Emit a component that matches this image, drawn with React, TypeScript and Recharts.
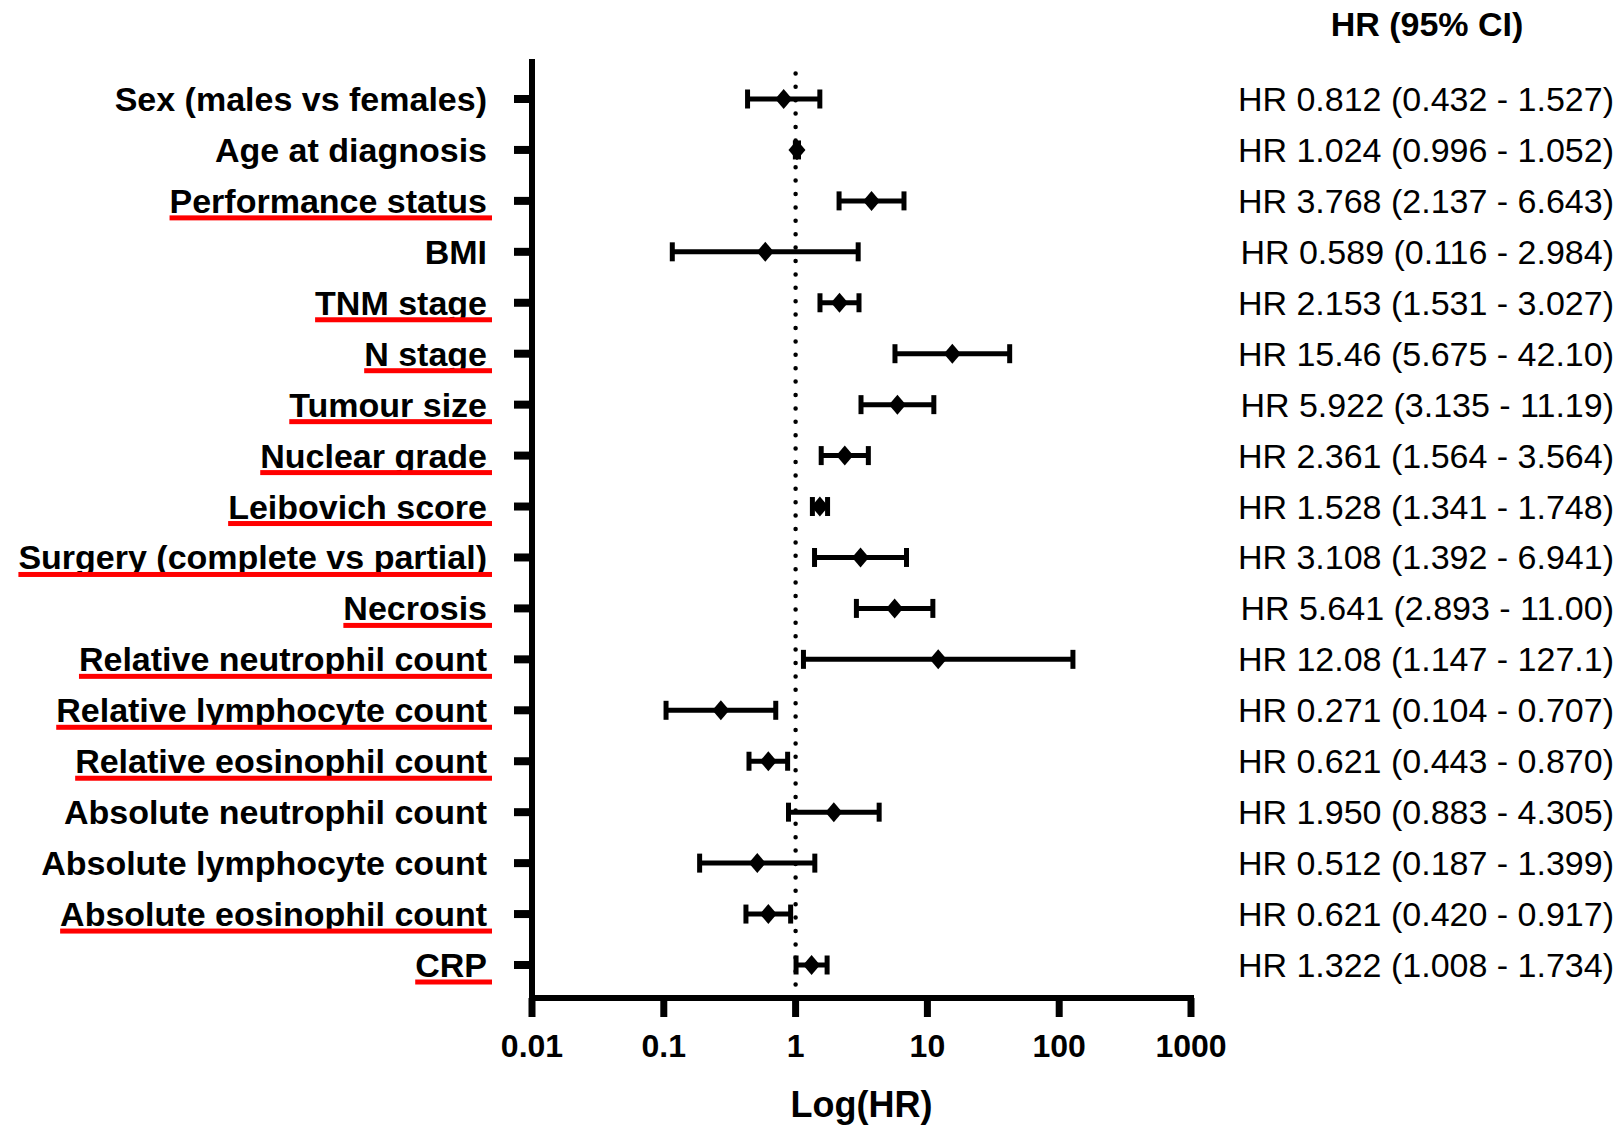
import { ComposedChart, Scatter, ErrorBar, XAxis, YAxis, ReferenceLine, Label } from 'recharts';

// variables, top to bottom
const categories = [
  'Sex (males vs females)',
  'Age at diagnosis',
  'Performance status',
  'BMI',
  'TNM stage',
  'N stage',
  'Tumour size',
  'Nuclear grade',
  'Leibovich score',
  'Surgery (complete vs partial)',
  'Necrosis',
  'Relative neutrophil count',
  'Relative lymphocyte count',
  'Relative eosinophil count',
  'Absolute neutrophil count',
  'Absolute lymphocyte count',
  'Absolute eosinophil count',
  'CRP',
];
const hr = [0.812, 1.024, 3.768, 0.589, 2.153, 15.46, 5.922, 2.361, 1.528, 3.108, 5.641, 12.08, 0.271, 0.621, 1.95, 0.512, 0.621, 1.322];
const lower = [0.432, 0.996, 2.137, 0.116, 1.531, 5.675, 3.135, 1.564, 1.341, 1.392, 2.893, 1.147, 0.104, 0.443, 0.883, 0.187, 0.42, 1.008];
const upper = [1.527, 1.052, 6.643, 2.984, 3.027, 42.1, 11.19, 3.564, 1.748, 6.941, 11.0, 127.1, 0.707, 0.87, 4.305, 1.399, 0.917, 1.734];
const hrLabels = [
  'HR 0.812 (0.432 - 1.527)',
  'HR 1.024 (0.996 - 1.052)',
  'HR 3.768 (2.137 - 6.643)',
  'HR 0.589 (0.116 - 2.984)',
  'HR 2.153 (1.531 - 3.027)',
  'HR 15.46 (5.675 - 42.10)',
  'HR 5.922 (3.135 - 11.19)',
  'HR 2.361 (1.564 - 3.564)',
  'HR 1.528 (1.341 - 1.748)',
  'HR 3.108 (1.392 - 6.941)',
  'HR 5.641 (2.893 - 11.00)',
  'HR 12.08 (1.147 - 127.1)',
  'HR 0.271 (0.104 - 0.707)',
  'HR 0.621 (0.443 - 0.870)',
  'HR 1.950 (0.883 - 4.305)',
  'HR 0.512 (0.187 - 1.399)',
  'HR 0.621 (0.420 - 0.917)',
  'HR 1.322 (1.008 - 1.734)',
];
// significant ones get the red underline
const underlined = [false, false, true, false, true, true, true, true, true, true, true, true, true, true, false, false, true, true];
const xTicks = [0.01, 0.1, 1, 10, 100, 1000];

const data = categories.map((name, i) => ({
  name,
  hr: hr[i],
  err: [hr[i] - lower[i], upper[i] - hr[i]],
}));

const FONT = '"Liberation Sans", Arial, Helvetica, sans-serif';

let ctx: CanvasRenderingContext2D | null = null;
function textWidth(s: string, font: string) {
  if (!ctx) ctx = document.createElement('canvas').getContext('2d');
  if (!ctx) return s.length * 18;
  ctx.font = font;
  return ctx.measureText(s).width;
}

function LeftTick(props: any) {
  const { x, y, payload } = props;
  const idx = categories.indexOf(payload.value);
  const w = textWidth(payload.value, `bold 34px ${FONT}`);
  return (
    <g>
      <text x={x} y={y + 12} textAnchor="end" fontFamily={FONT} fontWeight="bold" fontSize={34} fill="#000">
        {payload.value}
      </text>
      {underlined[idx] && <rect x={x - w} y={y + 14.5} width={w + 5} height={5} fill="#ff0000" />}
    </g>
  );
}

function RightTick(props: any) {
  const { y, payload } = props;
  const idx = categories.indexOf(payload.value);
  return (
    <text x={1614} y={y + 12} textAnchor="end" fontFamily={FONT} fontSize={34} fill="#000">
      {hrLabels[idx]}
    </text>
  );
}

function XTick(props: any) {
  const { x, y, payload } = props;
  return (
    <text x={x} y={y + 38} textAnchor="middle" fontFamily={FONT} fontWeight="bold" fontSize={32} fill="#000">
      {String(payload.value)}
    </text>
  );
}

function Diamond(props: any) {
  const { cx, cy } = props;
  const rx = 8.5;
  const ry = 10;
  return <polygon points={`${cx - rx},${cy} ${cx},${cy - ry} ${cx + rx},${cy} ${cx},${cy + ry}`} fill="#000" />;
}

const axisStroke = { stroke: '#000', strokeWidth: 6, strokeLinecap: 'square' as const };
const xTickStroke = { stroke: '#000', strokeWidth: 7 };
const yTickStroke = { stroke: '#000', strokeWidth: 8 };

export default function App() {
  return (
    <div style={{ position: 'absolute', left: 0, top: 0, width: 1621, height: 1125, background: '#fff' }}>
      <ComposedChart
        width={1621}
        height={1125}
        data={data}
        layout="vertical"
        margin={{ top: 62, right: 0, bottom: 67, left: 0 }}
      >
        <XAxis
          type="number"
          dataKey="hr"
          scale="log"
          domain={[0.01, 1000]}
          ticks={xTicks}
          allowDataOverflow
          height={60}
          tickSize={19}
          tickMargin={2}
          axisLine={axisStroke}
          tickLine={xTickStroke}
          tick={(p: any) => <XTick {...p} />}
        >
          <Label
            content={({ viewBox }: any) => (
              <text
                x={viewBox.x + viewBox.width / 2}
                y={viewBox.y + 119}
                textAnchor="middle"
                fontFamily={FONT}
                fontWeight="bold"
                fontSize={36}
                fill="#000"
              >
                Log(HR)
              </text>
            )}
          />
        </XAxis>
        <YAxis
          type="category"
          dataKey="name"
          width={532}
          padding={{ top: 37, bottom: 33 }}
          tickSize={18}
          tickMargin={27}
          interval={0}
          axisLine={axisStroke}
          tickLine={yTickStroke}
          tick={(p: any) => <LeftTick {...p} />}
        />
        <YAxis
          yAxisId="hr"
          orientation="right"
          type="category"
          dataKey="name"
          width={430}
          padding={{ top: 37, bottom: 33 }}
          interval={0}
          axisLine={false}
          tickLine={false}
          tick={(p: any) => <RightTick {...p} />}
        >
          <Label
            content={({ viewBox }: any) => (
              <text
                x={viewBox.x + viewBox.width / 2 + 21}
                y={viewBox.y - 26}
                textAnchor="middle"
                fontFamily={FONT}
                fontWeight="bold"
                fontSize={34}
                fill="#000"
              >
                HR (95% CI)
              </text>
            )}
          />
        </YAxis>
        <ReferenceLine x={1} stroke="#000" strokeWidth={4.5} strokeDasharray="0 13.4" strokeLinecap="round" />
        <Scatter dataKey="hr" shape={(p: any) => <Diamond {...p} />} isAnimationActive={false}>
          <ErrorBar dataKey="err" direction="x" width={9.5} strokeWidth={5} stroke="#000" isAnimationActive={false} />
        </Scatter>
      </ComposedChart>
    </div>
  );
}
